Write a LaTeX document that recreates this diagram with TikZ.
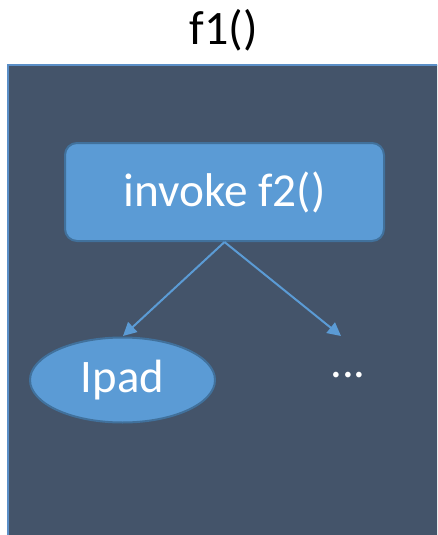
\documentclass[tikz,border=0pt]{standalone}
\usepackage{fontspec}
\setmainfont{Carlito}
\usetikzlibrary{shapes.geometric,arrows.meta}
\definecolor{panel}{HTML}{44546A}
\definecolor{paneledge}{HTML}{5B8FC7}
\definecolor{boxfill}{HTML}{5B9BD5}
\definecolor{boxedge}{HTML}{41719C}
\tikzset{
  callbox/.style={draw=boxedge, line width=1.5pt, fill=boxfill, rounded corners=9pt,
    minimum width=239.25pt, minimum height=73.5pt, text=white, font=\fontsize{35.5}{40}\selectfont},
  leaf/.style={ellipse, draw=boxedge, line width=1.5pt, fill=boxfill,
    minimum width=138.75pt, minimum height=63.75pt, inner sep=0pt, text=white, font=\fontsize{35}{40}\selectfont},
  plain/.style={text=white, font=\fontsize{35}{40}\selectfont},
  link/.style={draw=boxfill, line width=1.5pt, -{Triangle[length=10pt,width=10pt]}}
}
\begin{document}
\begin{tikzpicture}[x=0.75pt,y=-0.75pt]
\useasboundingbox (0,0) rectangle (437,535);
\begin{scope}
\clip (0,0) rectangle (437,535);
\fill[panel] (8,65) rectangle (445,545);
\draw[paneledge, line width=1.2pt] (8,545) -- (8,65) -- (445,65);
\end{scope}
\node[font=\fontsize{36}{40}\selectfont] (title) at (224,30) {f1()};
\node[callbox] (call) at (224.5,192) {invoke f2()};
\node[leaf] (ipad) at (122.5,380) {Ipad};
\node[plain, anchor=base] (more) at (348,377) {...};
\coordinate (tipA) at (123,336);
\coordinate (tipB) at (341,336);
\draw[link] (call.south) -- (tipA);
\draw[link] (call.south) -- (tipB);
\end{tikzpicture}
\end{document}
